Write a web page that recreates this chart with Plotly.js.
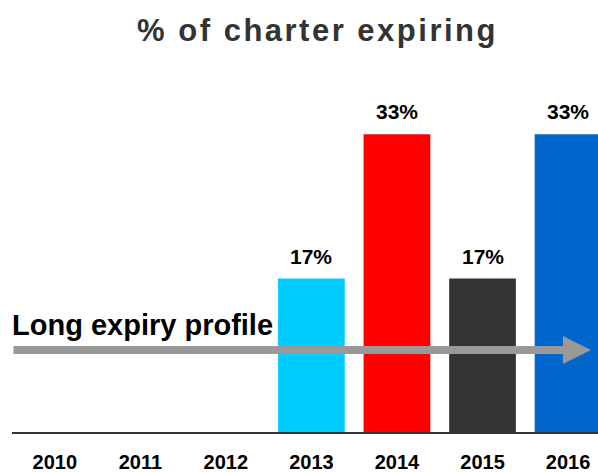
<!DOCTYPE html>
<html>
<head>
<meta charset="utf-8">
<script src="https://cdn.plot.ly/plotly-3.0.1.min.js"></script>
<style>
  html, body { margin: 0; padding: 0; background: #fff; }
  #chart { width: 598px; height: 472px; }
</style>
</head>
<body>
<div id="chart"></div>
<script>
// % of charter expiring per year
const years = ['2010', '2011', '2012', '2013', '2014', '2015', '2016'];
const expiring = [null, null, null, 17, 33, 17, 33];
const barColors = ['#00CCFF', '#00CCFF', '#00CCFF', '#00CCFF', '#FF0000', '#333333', '#0066CC'];

const arial = 'Liberation Sans, Arial, sans-serif';

const data = [{
  type: 'bar',
  x: years,
  y: expiring,
  marker: { color: barColors },
  hoverinfo: 'none',
}];

// value labels above bars (category index used for x)
const labels = [];
years.forEach((yr, i) => {
  if (expiring[i] == null) return;
  labels.push({
    x: i,
    y: expiring[i],
    xref: 'x',
    yref: 'y',
    text: expiring[i] + '%',
    showarrow: false,
    yanchor: 'bottom',
    yshift: 9,
    font: { family: arial, size: 21, color: '#000', weight: 'bold' },
  });
});

const layout = {
  width: 598,
  height: 472,
  autosize: false,
  margin: { l: 12, r: 0, t: 89, b: 40 },
  paper_bgcolor: '#fff',
  plot_bgcolor: '#fff',
  showlegend: false,
  bargap: 0.22,
  title: {
    text: '% of charter expiring',
    xref: 'container',
    yref: 'container',
    x: 0.531,
    y: 0.936,
    xanchor: 'center',
    yanchor: 'middle',
    font: { family: arial, size: 31, color: '#333333', weight: 'bold' },
  },
  xaxis: {
    type: 'category',
    range: [-0.5, 6.35],
    showline: true,
    linecolor: '#333',
    linewidth: 2,
    showgrid: false,
    zeroline: false,
    ticks: '',
    ticklabelstandoff: 11,
    tickfont: { family: arial, size: 20, color: '#000', weight: 'bold' },
    fixedrange: true,
  },
  yaxis: {
    range: [0, 38],
    visible: false,
    showgrid: false,
    zeroline: false,
    fixedrange: true,
  },
  annotations: labels.concat([
    {
      // long expiry arrow
      xref: 'paper',
      yref: 'paper',
      x: 0.988,
      y: 0.239,
      axref: 'pixel',
      ayref: 'pixel',
      ax: -579,
      ay: 0,
      text: '',
      showarrow: true,
      arrowhead: 2,
      arrowsize: 0.7,
      arrowwidth: 8,
      arrowcolor: '#999999',
    },
    {
      xref: 'paper',
      yref: 'paper',
      x: 0,
      y: 0.312,
      xanchor: 'left',
      yanchor: 'middle',
      xshift: -2,
      text: 'Long expiry profile',
      showarrow: false,
      font: { family: arial, size: 29, color: '#000', weight: 'bold' },
    },
  ]),
};

Plotly.newPlot('chart', data, layout, { displayModeBar: false, staticPlot: true }).then(() => {
  const t = document.querySelector('.gtitle');
  if (t) t.style.letterSpacing = '2.5px';
});
</script>
</body>
</html>
